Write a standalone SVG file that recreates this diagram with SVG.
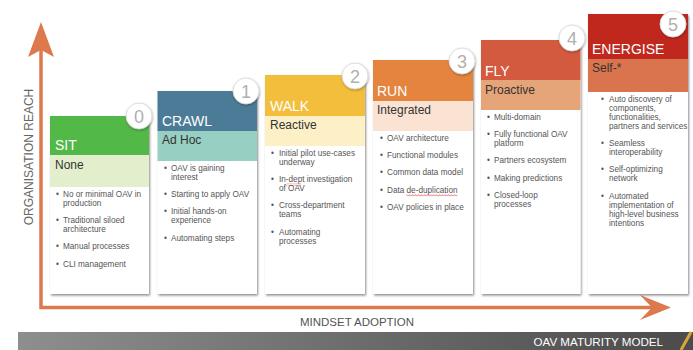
<svg xmlns="http://www.w3.org/2000/svg" width="693" height="350" viewBox="0 0 693 350">
<defs>
<filter id="sh" x="-10%" y="-10%" width="125%" height="125%">
<feDropShadow dx="1" dy="1.5" stdDeviation="1" flood-color="#000" flood-opacity="0.45"/>
</filter>
<filter id="csh" x="-30%" y="-30%" width="160%" height="160%">
<feDropShadow dx="0.5" dy="1" stdDeviation="1" flood-color="#000" flood-opacity="0.35"/>
</filter>
<linearGradient id="bar" x1="0" y1="0" x2="1" y2="0">
<stop offset="0" stop-color="#8e8e8e"/>
<stop offset="1" stop-color="#4b4b4b"/>
</linearGradient>
<pattern id="squig" width="3" height="2.4" patternUnits="userSpaceOnUse">
<path d="M0,2 L1.5,0.4 L3,2" fill="none" stroke="#e03030" stroke-width="0.6"/>
</pattern>
</defs>
<style>
text{font-family:"Liberation Sans",Arial,sans-serif}
.card{fill:#fff;filter:url(#sh)}
.ttl{fill:#fff;font-size:14px}
.sub{fill:#333;font-size:12px}
.b{fill:#555;font-size:8.2px}
.circ{fill:#fff;stroke:#d6d6d6;stroke-width:0.8;filter:url(#csh)}
.num{fill:#b0b0b0;font-size:18px;text-anchor:middle}
.axis{fill:none;stroke:#dc7a4e;stroke-width:3.5}
.head{fill:#dc7a4e}
.lbl{fill:#666;font-size:12px;text-anchor:middle}
</style>

<g id="connectors">
<path class="axis" d="M41,50 V307.5 H655"/>
<polygon class="head" points="41,22 28,57 41,50 54,57"/>
<polygon class="head" points="671,307.5 640,295 652,307.5 640,320"/>
</g>

<text class="lbl" transform="translate(33,157) rotate(-90)">ORGANISATION REACH</text>
<text class="lbl" x="357" y="326" style="font-size:11.5px;fill:#555">MINDSET ADOPTION</text>

<g id="bottom-bar">
<rect x="18" y="332" width="675" height="18" fill="url(#bar)"/>
<line x1="681" y1="350" x2="691" y2="332" stroke="#d9a53a" stroke-width="3"/>
<text x="663" y="346" fill="#fff" font-size="11.6" text-anchor="end">OAV MATURITY MODEL</text>
</g>

<g id="sit">
<rect class="card" x="50" y="116" width="99" height="178"/>
<rect x="50" y="116" width="99" height="39" fill="#52b848"/>
<rect x="50" y="155" width="99" height="32" fill="#e3efcc"/>
<text class="ttl" x="55" y="150">SIT</text>
<text class="sub" x="55" y="169">None</text>
<g class="b">
<text x="56" y="197">•</text><text x="63" y="197">No or minimal OAV in</text>
<text x="63" y="206">production</text>
<text x="56" y="223.2">•</text><text x="63" y="223.2">Traditional siloed</text>
<text x="63" y="232.2">architecture</text>
<text x="56" y="249.4">•</text><text x="63" y="249.4">Manual processes</text>
<text x="56" y="266.6">•</text><text x="63" y="266.6">CLI management</text>
</g>
<circle class="circ" cx="139" cy="116" r="13"/>
<text class="num" x="139" y="122.5">0</text>
</g>

<g id="crawl">
<rect class="card" x="157.5" y="91" width="99.5" height="203"/>
<rect x="157.5" y="91" width="99.5" height="40" fill="#4b7b96"/>
<rect x="157.5" y="131" width="99.5" height="30" fill="#97cfc2"/>
<text class="ttl" x="162" y="126">CRAWL</text>
<text class="sub" x="162" y="144">Ad Hoc</text>
<g class="b">
<text x="164" y="171">•</text><text x="171" y="171">OAV is gaining</text>
<text x="171" y="180">interest</text>
<text x="164" y="197.2">•</text><text x="171" y="197.2">Starting to apply OAV</text>
<text x="164" y="214.4">•</text><text x="171" y="214.4">Initial hands-on</text>
<text x="171" y="223.4">experience</text>
<text x="164" y="240.6">•</text><text x="171" y="240.6">Automating steps</text>
</g>
<circle class="circ" cx="246" cy="91" r="13"/>
<text class="num" x="246" y="97.5">1</text>
</g>

<g id="walk">
<rect class="card" x="265" y="75" width="100" height="219"/>
<rect x="265" y="75" width="100" height="41" fill="#f3be3c"/>
<rect x="265" y="116" width="100" height="30" fill="#fdf0c6"/>
<text class="ttl" x="270" y="111">WALK</text>
<text class="sub" x="270" y="129">Reactive</text>
<g class="b">
<text x="271" y="156">•</text><text x="279" y="156">Initial pilot use-cases</text>
<text x="279" y="165">underway</text>
<text x="271" y="182.2">•</text><text x="279" y="182.2">In-dept investigation</text>
<text x="279" y="191.2">of OAV</text>
<text x="271" y="208.4">•</text><text x="279" y="208.4">Cross-department</text>
<text x="279" y="217.4">teams</text>
<text x="271" y="234.6">•</text><text x="279" y="234.6">Automating</text>
<text x="279" y="243.6">processes</text>
</g>
<rect x="286" y="183.5" width="15" height="2.4" fill="url(#squig)"/>
<circle class="circ" cx="355" cy="76" r="13"/>
<text class="num" x="355" y="82.5">2</text>
</g>

<g id="run">
<rect class="card" x="373" y="60" width="100" height="234"/>
<rect x="373" y="60" width="100" height="41" fill="#e5843f"/>
<rect x="373" y="101" width="100" height="30" fill="#fae3d3"/>
<text class="ttl" x="377" y="96">RUN</text>
<text class="sub" x="377" y="114">Integrated</text>
<g class="b">
<text x="380" y="141">•</text><text x="387" y="141">OAV architecture</text>
<text x="380" y="158.2">•</text><text x="387" y="158.2">Functional modules</text>
<text x="380" y="175.4">•</text><text x="387" y="175.4">Common data model</text>
<text x="380" y="192.6">•</text><text x="387" y="192.6">Data de-duplication</text>
<text x="380" y="209.8">•</text><text x="387" y="209.8">OAV policies in place</text>
</g>
<rect x="406.5" y="194" width="51" height="2.4" fill="url(#squig)"/>
<circle class="circ" cx="462" cy="61" r="13"/>
<text class="num" x="462" y="67.5">3</text>
</g>

<g id="fly">
<rect class="card" x="481" y="40" width="99.5" height="254"/>
<rect x="481" y="40" width="99.5" height="40" fill="#d35a3e"/>
<rect x="481" y="80" width="99.5" height="30" fill="#e6a479"/>
<text class="ttl" x="485" y="76">FLY</text>
<text class="sub" x="485" y="94">Proactive</text>
<g class="b">
<text x="487" y="120">•</text><text x="494" y="120">Multi-domain</text>
<text x="487" y="137.2">•</text><text x="494" y="137.2">Fully functional OAV</text>
<text x="494" y="146.2">platform</text>
<text x="487" y="163.4">•</text><text x="494" y="163.4">Partners ecosystem</text>
<text x="487" y="180.6">•</text><text x="494" y="180.6">Making predictions</text>
<text x="487" y="197.8">•</text><text x="494" y="197.8">Closed-loop</text>
<text x="494" y="206.8">processes</text>
</g>
<circle class="circ" cx="572" cy="38" r="13"/>
<text class="num" x="572" y="44.5">4</text>
</g>

<g id="energise">
<rect class="card" x="588" y="14" width="100" height="280"/>
<rect x="588" y="14" width="100" height="45" fill="#c0281e"/>
<rect x="588" y="59" width="100" height="33" fill="#d9744f"/>
<text class="ttl" x="592" y="54">ENERGISE</text>
<text class="sub" x="592" y="72">Self-*</text>
<g class="b">
<text x="601" y="102">•</text><text x="609" y="102">Auto discovery of</text>
<text x="609" y="111">components,</text>
<text x="609" y="120">functionalities,</text>
<text x="609" y="129">partners and services</text>
<text x="601" y="146.2">•</text><text x="609" y="146.2">Seamless</text>
<text x="609" y="155.2">interoperability</text>
<text x="601" y="172.4">•</text><text x="609" y="172.4">Self-optimizing</text>
<text x="609" y="181.4">network</text>
<text x="601" y="198.6">•</text><text x="609" y="198.6">Automated</text>
<text x="609" y="207.6">implementation of</text>
<text x="609" y="216.6">high-level business</text>
<text x="609" y="225.6">intentions</text>
</g>
<circle class="circ" cx="673" cy="24" r="13"/>
<text class="num" x="673" y="30.5">5</text>
</g>
</svg>
